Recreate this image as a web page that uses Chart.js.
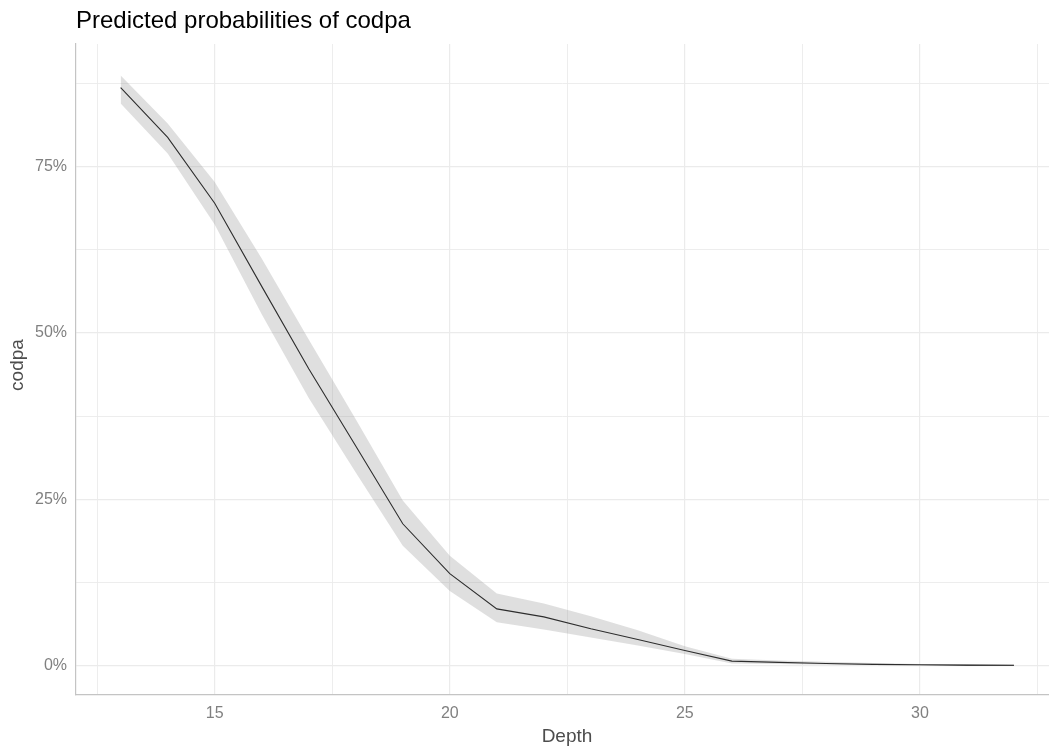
<!DOCTYPE html>
<html>
<head>
<meta charset="utf-8">
<title>Predicted probabilities of codpa</title>
<script src="https://cdn.jsdelivr.net/npm/chart.js@4"></script>
<style>
  html, body { margin: 0; padding: 0; background: #ffffff; }
  #wrap { position: relative; width: 1049px; height: 751px; }
</style>
</head>
<body>
<div id="wrap"><canvas id="probChart"></canvas></div>
<script>
// Depth values and the predicted probability with its confidence band
const depth     = [13, 14, 15, 16, 17, 18, 19, 20, 21, 22, 23, 24, 25, 26, 27, 28, 29, 30, 31, 32];
const predicted = [0.869, 0.794, 0.695, 0.570, 0.446, 0.330, 0.213, 0.138, 0.085, 0.073, 0.055, 0.039, 0.0225, 0.0065, 0.0045, 0.0028, 0.0016, 0.0009, 0.0005, 0.0003];
const upper     = [0.887, 0.815, 0.727, 0.612, 0.490, 0.370, 0.248, 0.165, 0.108, 0.093, 0.074, 0.053, 0.029, 0.010, 0.0075, 0.0055, 0.0035, 0.002, 0.0012, 0.0008];
const lower     = [0.845, 0.770, 0.663, 0.528, 0.402, 0.290, 0.180, 0.112, 0.065, 0.054, 0.042, 0.030, 0.017, 0.003, 0.002, 0.001, 0.0005, 0.0002, 0.0001, 0.0001];

// Axis breaks (majors get labels, minors only grid lines)
const xBreaks = [12.5, 15, 17.5, 20, 22.5, 25, 27.5, 30, 32.5];
const xLabelled = [15, 20, 25, 30];
const yBreaks = [0, 0.125, 0.25, 0.375, 0.5, 0.625, 0.75, 0.875];
const yLabelled = [0, 0.25, 0.5, 0.75];

const FONT = "'Liberation Sans', Arial, 'DejaVu Sans', sans-serif";

function toPoints(ys) {
  return depth.map((d, i) => ({ x: d, y: ys[i] }));
}

// Title and axis titles
const textPlugin = {
  id: "plotText",
  afterDraw: function (chart) {
    const ctx = chart.ctx;
    const area = chart.chartArea;
    ctx.save();
    ctx.fillStyle = "#000000";
    ctx.font = "24px " + FONT;
    ctx.textAlign = "left";
    ctx.textBaseline = "middle";
    ctx.fillText("Predicted probabilities of codpa", 76, 21);

    ctx.fillStyle = "#4d4d4d";
    ctx.font = "19px " + FONT;
    ctx.textAlign = "center";
    ctx.fillText("Depth", 567, 737);

    ctx.translate(18, 365);
    ctx.rotate(-Math.PI / 2);
    ctx.fillText("codpa", 0, 0);
    ctx.restore();
  },
};

const ctx = document.getElementById("probChart").getContext("2d");
const probChart = new Chart(ctx, {
  type: "line",
  data: {
    datasets: [
      {
        label: "upper",
        data: toPoints(upper),
        borderWidth: 0,
        pointRadius: 0,
        backgroundColor: "rgba(150, 150, 150, 0.3)",
        fill: "+1",
        tension: 0,
      },
      {
        label: "lower",
        data: toPoints(lower),
        borderWidth: 0,
        pointRadius: 0,
        fill: false,
        tension: 0,
      },
      {
        label: "predicted",
        data: toPoints(predicted),
        borderColor: "#000000",
        borderWidth: 1.1,
        pointRadius: 0,
        fill: false,
        tension: 0,
      },
    ],
  },
  options: {
    responsive: true,
    maintainAspectRatio: false,
    animation: false,
    events: [],
    layout: {
      padding: { top: 44, right: 0, left: 0, bottom: 0 },
    },
    plugins: {
      legend: { display: false },
      tooltip: { enabled: false },
    },
    scales: {
      x: {
        type: "linear",
        min: 12.05,
        max: 32.745,
        afterBuildTicks: function (scale) {
          scale.ticks = xBreaks.map((v) => ({ value: v }));
        },
        afterFit: function (scale) {
          scale.height = 56;
        },
        grid: {
          color: "#ebebeb",
          lineWidth: function (c) {
            return xLabelled.includes(c.tick && c.tick.value) ? 1.2 : 0.9;
          },
          drawTicks: false,
        },
        border: { display: true, color: "#c4c4c4", width: 1.2 },
        ticks: {
          color: "#808080",
          padding: 9,
          maxRotation: 0,
          autoSkip: false,
          font: { size: 16, family: FONT },
          callback: function (value) {
            return xLabelled.includes(value) ? String(value) : "";
          },
        },
      },
      y: {
        type: "linear",
        min: -0.0445,
        max: 0.9345,
        afterBuildTicks: function (scale) {
          scale.ticks = yBreaks.map((v) => ({ value: v }));
        },
        afterFit: function (scale) {
          scale.width = 76;
        },
        grid: {
          color: "#ebebeb",
          lineWidth: function (c) {
            return yLabelled.includes(c.tick && c.tick.value) ? 1.2 : 0.9;
          },
          drawTicks: false,
        },
        border: { display: true, color: "#c4c4c4", width: 1.2 },
        ticks: {
          color: "#808080",
          padding: 9,
          autoSkip: false,
          font: { size: 16, family: FONT },
          callback: function (value) {
            return yLabelled.includes(value) ? Math.round(value * 100) + "%" : "";
          },
        },
      },
    },
  },
  plugins: [textPlugin],
});
</script>
</body>
</html>
